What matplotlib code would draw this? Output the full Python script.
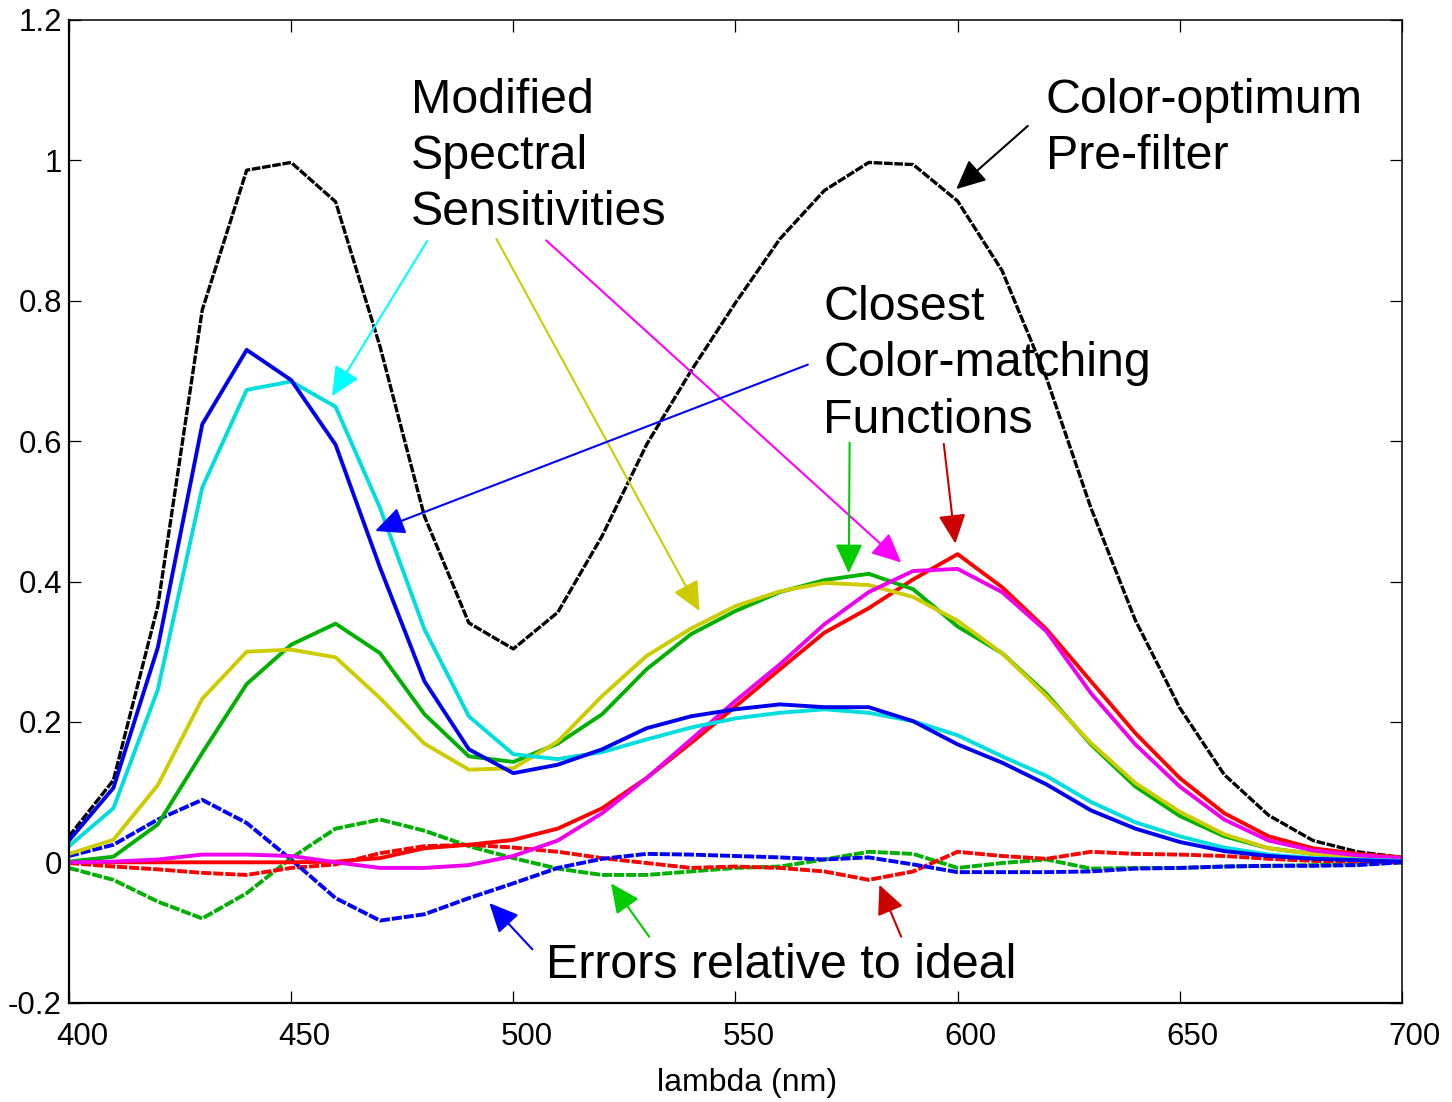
import matplotlib
matplotlib.use('Agg')
import matplotlib.pyplot as plt
from matplotlib.ticker import FixedLocator, FixedFormatter
from matplotlib.transforms import ScaledTranslation

plt.rcParams['font.family'] = ['Liberation Sans', 'DejaVu Sans']
plt.rcParams['axes.unicode_minus'] = False

# ---- data ----
wavelength = [400, 410, 420, 430, 440, 450, 460, 470, 480, 490, 500,
              510, 520, 530, 540, 550, 560, 570, 580, 590, 600,
              610, 620, 630, 640, 650, 660, 670, 680, 690, 700]

prefilter = [0.037, 0.117, 0.365, 0.787, 0.986, 0.997, 0.941, 0.735, 0.493, 0.341, 0.304,
             0.356, 0.465, 0.595, 0.700, 0.797, 0.888, 0.957, 0.997, 0.994, 0.942,
             0.843, 0.690, 0.505, 0.345, 0.220, 0.125, 0.067, 0.031, 0.015, 0.007]

# closest colour-matching functions (solid)
cmf_red = [0.0, 0.0, 0.0, 0.0, 0.0, 0.0, 0.001, 0.006, 0.020, 0.025, 0.032,
           0.048, 0.077, 0.120, 0.170, 0.222, 0.275, 0.327, 0.362, 0.403, 0.439,
           0.392, 0.332, 0.258, 0.184, 0.120, 0.070, 0.037, 0.020, 0.012, 0.007]
cmf_green = [0.001, 0.008, 0.054, 0.156, 0.254, 0.310, 0.340, 0.298, 0.211, 0.151, 0.143,
             0.169, 0.211, 0.275, 0.325, 0.358, 0.385, 0.402, 0.411, 0.389, 0.336,
             0.298, 0.240, 0.168, 0.108, 0.066, 0.037, 0.020, 0.012, 0.007, 0.004]
cmf_blue = [0.031, 0.106, 0.306, 0.624, 0.730, 0.687, 0.595, 0.420, 0.258, 0.161, 0.127,
            0.139, 0.161, 0.191, 0.208, 0.218, 0.225, 0.221, 0.221, 0.201, 0.168,
            0.142, 0.111, 0.074, 0.048, 0.029, 0.016, 0.009, 0.005, 0.003, 0.001]

# modified spectral sensitivities (solid)
mod_magenta = [0.0, 0.001, 0.004, 0.011, 0.011, 0.009, 0.0, -0.008, -0.008, -0.004, 0.009,
               0.031, 0.070, 0.120, 0.175, 0.230, 0.282, 0.339, 0.385, 0.415, 0.418,
               0.385, 0.329, 0.241, 0.168, 0.108, 0.061, 0.031, 0.017, 0.010, 0.006]
mod_yellow = [0.012, 0.032, 0.110, 0.233, 0.300, 0.303, 0.292, 0.234, 0.169, 0.132, 0.134,
              0.172, 0.237, 0.294, 0.333, 0.365, 0.386, 0.398, 0.395, 0.378, 0.344,
              0.298, 0.237, 0.170, 0.113, 0.072, 0.040, 0.020, 0.012, 0.007, 0.004]
mod_cyan = [0.023, 0.077, 0.246, 0.534, 0.673, 0.685, 0.649, 0.505, 0.332, 0.208, 0.154,
            0.147, 0.157, 0.175, 0.192, 0.205, 0.213, 0.218, 0.213, 0.201, 0.181,
            0.151, 0.123, 0.086, 0.057, 0.037, 0.021, 0.011, 0.006, 0.004, 0.002]

# errors relative to ideal (dashed)
err_red = [-0.001, -0.006, -0.010, -0.015, -0.018, -0.008, -0.003, 0.013, 0.023, 0.025, 0.021,
           0.015, 0.006, -0.001, -0.008, -0.006, -0.008, -0.013, -0.025, -0.013, 0.015,
           0.009, 0.005, 0.015, 0.012, 0.011, 0.009, 0.005, 0.002, 0.001, 0.0]
err_green = [-0.008, -0.025, -0.056, -0.080, -0.044, 0.006, 0.048, 0.061, 0.045, 0.023, 0.006,
             -0.009, -0.018, -0.018, -0.013, -0.008, -0.006, 0.004, 0.015, 0.012, -0.008,
             -0.001, 0.004, -0.009, -0.008, -0.008, -0.006, -0.005, -0.004, -0.003, 0.0]
err_blue = [0.009, 0.025, 0.061, 0.089, 0.056, 0.004, -0.051, -0.083, -0.074, -0.051, -0.030,
            -0.008, 0.005, 0.012, 0.011, 0.009, 0.007, 0.004, 0.007, -0.003, -0.014,
            -0.014, -0.014, -0.013, -0.009, -0.008, -0.006, -0.005, -0.005, -0.004, 0.0]

ytick_vals = [-0.2, 0, 0.2, 0.4, 0.6, 0.8, 1.0, 1.2]
ytick_labels = ['-0.2', '0', '0.2', '0.4', '0.6', '0.8', '1', '1.2']
xtick_vals = [400, 450, 500, 550, 600, 650, 700]

# ---- figure ----
fig = plt.figure(figsize=(14.52, 11.02), dpi=100)
ax = fig.add_axes([0.0475, 0.0901, 0.918, 0.8918])

lw = 2.8
dash = (0, (2.6, 0.5))

ax.plot(wavelength, prefilter, color='black', lw=lw - 0.4, linestyle=dash)

ax.plot(wavelength, err_green, color='#00B000', lw=lw, linestyle=dash)
ax.plot(wavelength, err_red, color='#FF0000', lw=lw, linestyle=dash)
ax.plot(wavelength, err_blue, color='#0000FF', lw=lw, linestyle=dash)

ax.plot(wavelength, cmf_red, color='#FF0000', lw=lw)
ax.plot(wavelength, cmf_green, color='#00B000', lw=lw)
ax.plot(wavelength, mod_yellow, color='#CCCC00', lw=lw)
ax.plot(wavelength, mod_magenta, color='#EE00EE', lw=lw)
ax.plot(wavelength, mod_cyan, color='#00DDDD', lw=lw)
ax.plot(wavelength, cmf_blue, color='#0000EE', lw=lw)

ax.set_xlim(400, 700)
ax.set_ylim(-0.2, 1.2)
ax.xaxis.set_major_locator(FixedLocator(xtick_vals))
ax.yaxis.set_major_locator(FixedLocator(ytick_vals))
ax.yaxis.set_major_formatter(FixedFormatter(ytick_labels))
ax.tick_params(direction='in', length=8.5, width=0.9, labelsize=22.5,
               top=True, right=True)
ax.tick_params(axis='x', pad=14)
ax.tick_params(axis='y', pad=5)
for side in ['left', 'bottom']:
    ax.spines[side].set_linewidth(1.6)
for side in ['top', 'right']:
    ax.spines[side].set_linewidth(1.1)

# the x tick labels sit a little to the right of their ticks in the original
shift = ScaledTranslation(13 / 100, 0, fig.dpi_scale_trans)
for lab in ax.get_xticklabels():
    lab.set_transform(lab.get_transform() + shift)

ax.set_xlabel('lambda (nm)', fontsize=23, va='top')
ax.xaxis.set_label_coords(0.5085, -0.066)

# ---- annotations ----
txt = dict(fontsize=34.8, va='top', ha='left', linespacing=1.32)
ax.text(477.0, 1.118, 'Modified\nSpectral\nSensitivities', **txt)
ax.text(619.8, 1.118, 'Color-optimum\nPre-filter', **txt)
ax.text(569.8, 0.822, 'Closest\nColor-matching\nFunctions', **txt)
ax.text(507.4, -0.115, 'Errors relative to ideal', **txt)

arrows = [
    ((480.6, 0.885), (459.2, 0.664), '#00FFFF'),
    ((496.2, 0.888), (541.9, 0.358), '#CCCC00'),
    ((507.4, 0.886), (587.3, 0.427), '#FF00FF'),
    ((566.3, 0.709), (468.9, 0.472), '#0000FF'),
    ((575.7, 0.598), (575.5, 0.412), '#00CC00'),
    ((596.9, 0.596), (599.5, 0.454), '#CC0000'),
    ((615.8, 1.049), (599.7, 0.959), '#000000'),
    ((504.3, -0.124), (494.6, -0.058), '#0000FF'),
    ((530.6, -0.106), (522.0, -0.030), '#00CC00'),
    ((587.3, -0.106), (582.4, -0.032), '#CC0000'),
]
for start, tip, col in arrows:
    ax.annotate('', xy=tip, xytext=start,
                arrowprops=dict(arrowstyle='-|>,head_length=0.9,head_width=0.42',
                                mutation_scale=20, color=col, lw=1.5,
                                shrinkA=0, shrinkB=0))

fig.savefig('out.png', dpi=100)
